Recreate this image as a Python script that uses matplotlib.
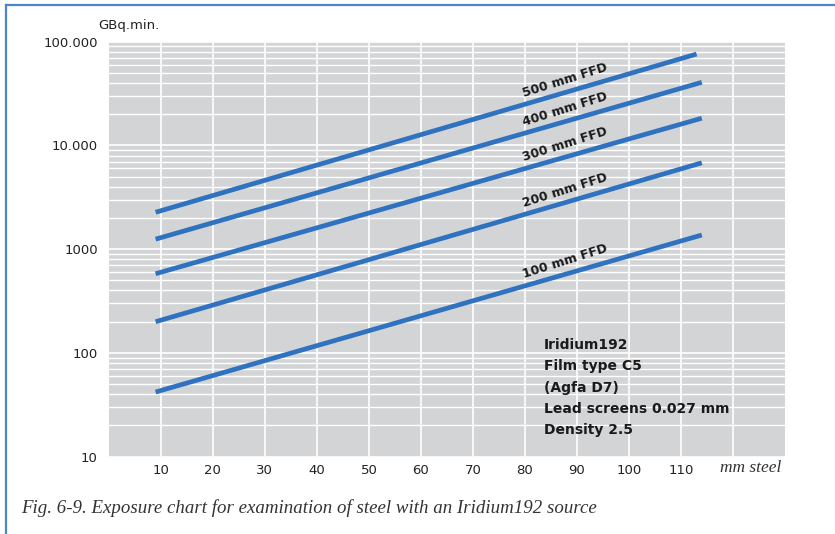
import numpy as np
import matplotlib.pyplot as plt
from matplotlib.lines import Line2D

# exposure lines (mm steel -> GBq.min) for each film-focus distance
ffd_labels = ['500 mm FFD', '400 mm FFD', '300 mm FFD', '200 mm FFD', '100 mm FFD']
thick_start = [9, 9, 9, 9, 9]
thick_end = [113, 114, 114, 114, 114]
dose_start = [2270, 1250, 580, 200, 42]
dose_end = [76000, 40600, 18300, 6800, 1370]

x_ticks = [10, 20, 30, 40, 50, 60, 70, 80, 90, 100, 110, 120]
x_labels = ['10', '20', '30', '40', '50', '60', '70', '80', '90', '100', '110', '']
y_ticks = [10, 100, 1000, 10000, 100000]
y_labels = ['10', '100', '1000', '10.000', '100.000']

info_lines = ['Iridium192', 'Film type C5', '(Agfa D7)',
              'Lead screens 0.027 mm', 'Density 2.5']

line_col = '#2f72c0'
frame_col = '#4a86c8'
bg_col = '#d3d4d6'

fig = plt.figure(figsize=(8.35, 5.34), dpi=100)
ax = fig.add_axes([108.8/835, 1-456.7/534, (785-108.8)/835, (456.7-41.7)/534])
ax.set_facecolor(bg_col)
ax.set_yscale('log')
ax.set_xlim(0, 130)
ax.set_ylim(10, 100000)

ax.set_xticks(x_ticks)
ax.set_xticklabels(x_labels)
ax.set_yticks(y_ticks)
ax.set_yticklabels(y_labels)
ax.yaxis.set_minor_locator(plt.matplotlib.ticker.LogLocator(base=10, subs=np.arange(2, 10)))
ax.yaxis.set_minor_formatter(plt.NullFormatter())
ax.tick_params(axis='both', which='both', length=0, labelsize=9.5, colors='#222222')
ax.tick_params(axis='y', pad=8)
ax.tick_params(axis='x', pad=5)
ax.grid(True, which='major', color='white', lw=1.2)
ax.grid(True, which='minor', axis='y', color='white', lw=1.0)
ax.set_axisbelow(True)
for s in ax.spines.values():
    s.set_visible(False)

for lab, x0, x1, y0, y1 in zip(ffd_labels, thick_start, thick_end, dose_start, dose_end):
    ax.plot([x0, x1], [y0, y1], color=line_col, lw=3.4, solid_capstyle='butt')
    # label sits above the line at about 88 mm
    xl = 87.7
    yl = 10 ** (np.log10(y0) + (xl - x0) / (x1 - x0) * (np.log10(y1) - np.log10(y0)))
    ax.annotate(lab, (xl, yl), xytext=(0, 9), textcoords='offset points',
                ha='center', va='center', rotation=17.5, rotation_mode='anchor',
                fontsize=9, fontweight='bold', color='#1a1a1a')

for i, t in enumerate(info_lines):
    fig.text(544/835, 1-(345+i*21.3)/534, t, ha='left', va='center',
             fontsize=10, fontweight='bold', color='#1a1a1a')

fig.text(98/835, 1-25/534, 'GBq.min.', ha='left', va='center', fontsize=9.5, color='#222222')
fig.text(781/835, 1-468/534, 'mm steel', ha='right', va='center', fontsize=12.5,
         family='Liberation Serif', style='italic', color='#333333')
fig.text(21/835, 1-508/534,
         'Fig. 6-9. Exposure chart for examination of steel with an Iridium192 source',
         ha='left', va='center', fontsize=13.6, family='Liberation Serif', style='italic',
         color='#333333')

# blue frame on the top and left
fx, fy = 6/835, 1-5/534
fig.add_artist(Line2D([fx, 1.0], [fy, fy], transform=fig.transFigure, color=frame_col, lw=1.6))
fig.add_artist(Line2D([fx, fx], [fy, 0.0], transform=fig.transFigure, color=frame_col, lw=1.6))

fig.savefig('out.png', dpi=100)
